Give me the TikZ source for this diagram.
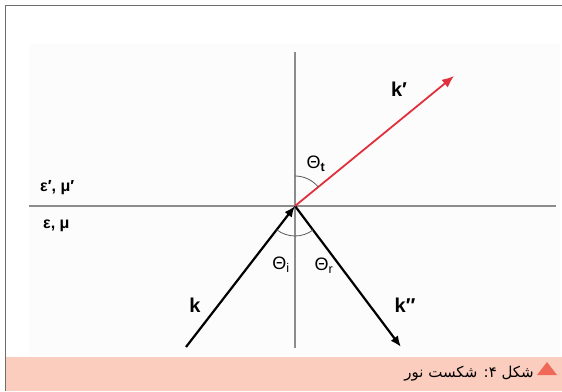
\documentclass[tikz,border=0pt]{standalone}
\usepackage{fontspec}
\setmainfont{Liberation Sans}
\newfontfamily\arabicfont[Script=Arabic]{DejaVu Sans}
\TeXXeTstate=1
\usepackage{tikz}
\usetikzlibrary{arrows.meta,positioning,calc}
\definecolor{framegray}{HTML}{6E6E6E}
\definecolor{axisgray}{HTML}{8C8C8C}
\definecolor{rayred}{HTML}{E0303C}
\definecolor{capfill}{HTML}{FBCDBE}
\definecolor{capmark}{HTML}{F06858}

\begin{document}
\begin{tikzpicture}[
  x=1pt,y=1pt,
  axisline/.style={draw=axisgray,line width=1.6pt},
  ray/.style={draw=black,line width=2.2pt,-{Latex[length=11pt,width=9pt]}},
  trans/.style={draw=rayred,line width=1.8pt,-{Latex[length=12pt,width=10pt]}},
  arcline/.style={draw=black!65,line width=0.8pt},
  lbl/.style={inner sep=0pt,font=\fontsize{20}{20}\selectfont\bfseries},
  ang/.style={inner sep=0pt,font=\fontsize{18}{18}\selectfont},
  med/.style={inner sep=0pt,anchor=west,font=\fontsize{16}{16}\selectfont\bfseries}
]
\useasboundingbox (0,0) rectangle (562,391);
% ---- frame and caption band
\fill[black!1] (29,36) rectangle (560,347);
\fill[capfill] (5.5,0) rectangle (562,34);
\draw[framegray,line width=1.4pt] (5.5,0) |- (562,385.5);

% ---- interface and normal
\coordinate (O) at (295,185);
\coordinate (west) at (29,185);
\coordinate (east) at (556,185);
\coordinate (top) at (295,339);
\coordinate (bot) at (295,43);
\draw[axisline] (west) -- (east);
\draw[axisline] (top) -- (bot);

% ---- rays
\coordinate (kin) at (186,44);
\coordinate (krefl) at (401,44);
\coordinate (ktrans) at (454,315);
\draw[ray] (kin) -- (O);
\draw[ray] (O) -- (krefl);
\draw[trans] (O) -- (ktrans);

% ---- angle arcs
\draw[arcline] ($(O)+(90:30)$) arc[start angle=90,end angle=39.3,radius=30];
\draw[arcline] ($(O)+(232.3:30)$) arc[start angle=232.3,end angle=307,radius=30];

% ---- labels
\node[lbl] (k) at (195,86) {k};
\node[lbl] (kpp) at (405,86) {k″};
\node[lbl] (kp) at (399,302) {k′};
\node[ang] (tht) at (316,227) {Θ\textsubscript{\bfseries t}};
\node[ang] (thi) at (281,126) {Θ\textsubscript{i}};
\node[ang] (thr) at (324,125) {Θ\textsubscript{r}};
\node[med] (up) at (40,203) {ε′, μ′};
\node[med] (down) at (43,165) {ε, μ};

% ---- caption
\fill[capmark] (537,16) -- (557,16) -- (547,29) -- cycle;
\node[inner sep=0pt,anchor=base east,font=\fontsize{15}{15}\selectfont] (cap) at (534,14)
  {\arabicfont\beginR شکل ۴: شکست نور\endR};
\end{tikzpicture}
\end{document}
